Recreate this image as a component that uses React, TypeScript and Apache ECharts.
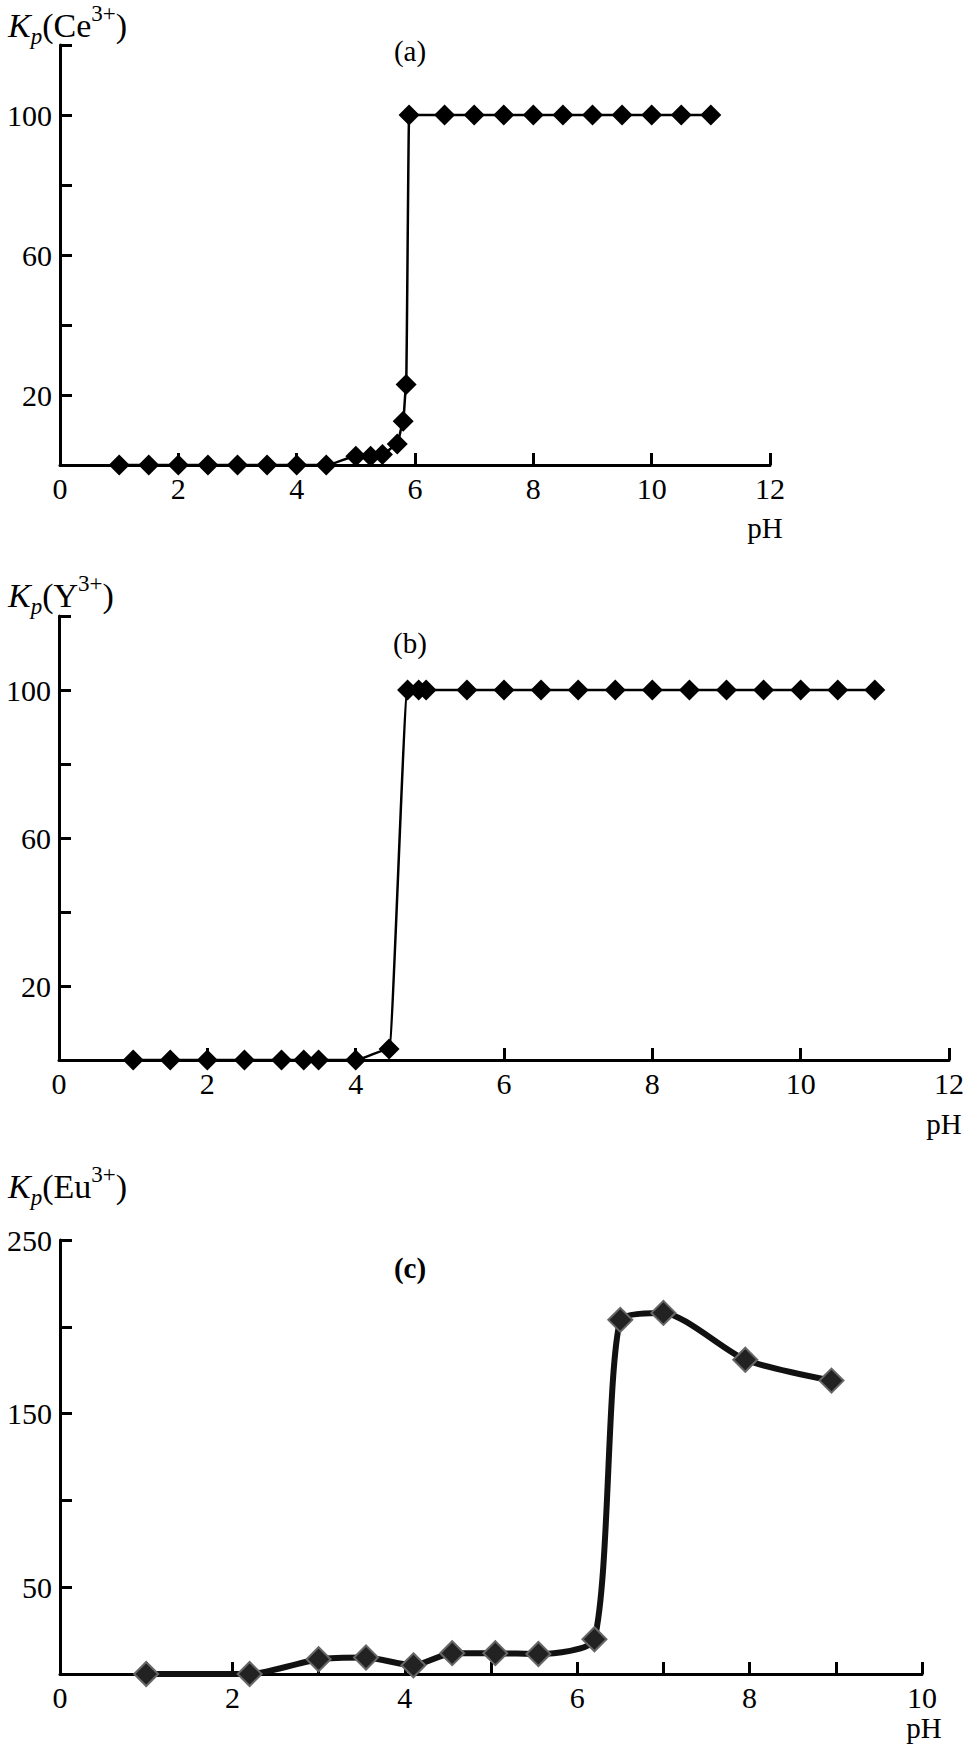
import React, { useEffect, useRef } from "react";
import * as echarts from "echarts";

const phA = [1, 1.5, 2, 2.5, 3, 3.5, 4, 4.5, 5, 5.25, 5.45, 5.7, 5.8, 5.85, 5.9, 6.5, 7, 7.5, 8, 8.5, 9, 9.5, 10, 10.5, 11];
const kpA = [0, 0, 0, 0, 0, 0, 0, 0, 2.5, 2.5, 3, 6, 12.5, 23, 100, 100, 100, 100, 100, 100, 100, 100, 100, 100, 100];

const phB = [1, 1.5, 2, 2.5, 3, 3.3, 3.5, 4, 4.45, 4.7, 4.85, 4.95, 5.5, 6, 6.5, 7, 7.5, 8, 8.5, 9, 9.5, 10, 10.5, 11];
const kpB = [0, 0, 0, 0, 0, 0, 0, 0, 3, 100, 100, 100, 100, 100, 100, 100, 100, 100, 100, 100, 100, 100, 100, 100];

const phC = [1, 2.2, 3, 3.55, 4.1, 4.55, 5.05, 5.55, 6.2, 6.5, 7, 7.95, 8.95];
const kpC = [0, 0, 8.5, 9.5, 5, 12, 12, 11.5, 20, 204, 208, 181, 169];

const yLabelsAB = [20, 60, 100];
const yLabelsC = [50, 150, 250];

const FONT = "'Liberation Serif', 'Times New Roman', Times, serif";

function pairs(xs: number[], ys: number[]) {
  return xs.map((x, i) => [x, ys[i]]);
}

function xAxisCfg(gridIndex: number, max: number, interval: number, labelEvery: number) {
  return {
    type: "value",
    gridIndex,
    min: 0,
    max,
    interval,
    axisLine: { show: true, onZero: false, lineStyle: { color: "#000", width: 3 } },
    axisTick: { show: true, inside: true, length: 12, lineStyle: { color: "#000", width: 3 } },
    axisLabel: {
      color: "#000",
      fontFamily: FONT,
      fontSize: 30,
      margin: 8,
      formatter: (v: number) => (Math.round(v) % labelEvery === 0 ? String(v) : ""),
    },
    splitLine: { show: false },
  };
}

function yAxisCfg(gridIndex: number, max: number, interval: number, labels: number[]) {
  return {
    type: "value",
    gridIndex,
    min: 0,
    max,
    interval,
    axisLine: { show: true, onZero: false, lineStyle: { color: "#000", width: 3 } },
    axisTick: { show: true, inside: true, length: 12, lineStyle: { color: "#000", width: 3 } },
    axisLabel: {
      color: "#000",
      fontFamily: FONT,
      fontSize: 30,
      margin: 8,
      formatter: (v: number) => (labels.includes(v) ? String(v) : ""),
    },
    splitLine: { show: false },
  };
}

function richTitle(ion: string, left: number, top: number) {
  return {
    type: "text",
    left,
    top,
    style: {
      text: `{k|K}{p|p}{n|(${ion}}{s|3+}{n|)}`,
      fill: "#000",
      rich: {
        k: { fontFamily: FONT, fontStyle: "italic", fontSize: 34, lineHeight: 46, fill: "#000" },
        p: { fontFamily: FONT, fontStyle: "italic", fontSize: 23, lineHeight: 23, verticalAlign: "bottom", fill: "#000" },
        n: { fontFamily: FONT, fontSize: 34, lineHeight: 46, fill: "#000" },
        s: { fontFamily: FONT, fontSize: 23, lineHeight: 23, verticalAlign: "top", fill: "#000" },
      },
    },
  };
}

function plainText(text: string, x: number, y: number, bold = false) {
  return {
    type: "text",
    x,
    y,
    style: {
      text,
      fill: "#000",
      fontFamily: FONT,
      fontSize: 29,
      fontWeight: bold ? "bold" : "normal",
      align: "center",
      verticalAlign: "middle",
    },
  };
}

export default function App() {
  const ref = useRef<HTMLDivElement>(null);
  useEffect(() => {
    document.body.style.margin = "0";
    if (!ref.current) return;
    const chart = echarts.init(ref.current, undefined, { renderer: "svg" });
    const thinLine = {
      type: "line",
      symbol: "diamond",
      symbolSize: 21,
      smooth: 0.2,
      smoothMonotone: "x",
      lineStyle: { color: "#000", width: 2.5 },
      itemStyle: { color: "#000" },
    };
    chart.setOption({
      animation: false,
      backgroundColor: "#fff",
      grid: [
        { left: 60, top: 45, width: 710, height: 420 },
        { left: 59, top: 616, width: 890, height: 444 },
        { left: 60, top: 1240, width: 862, height: 434 },
      ],
      xAxis: [xAxisCfg(0, 12, 2, 2), xAxisCfg(1, 12, 2, 2), xAxisCfg(2, 10, 1, 2)],
      yAxis: [yAxisCfg(0, 120, 20, yLabelsAB), yAxisCfg(1, 120, 20, yLabelsAB), yAxisCfg(2, 250, 50, yLabelsC)],
      series: [
        { ...thinLine, xAxisIndex: 0, yAxisIndex: 0, data: pairs(phA, kpA) },
        { ...thinLine, xAxisIndex: 1, yAxisIndex: 1, data: pairs(phB, kpB) },
        {
          type: "line",
          xAxisIndex: 2,
          yAxisIndex: 2,
          data: pairs(phC, kpC),
          symbol: "diamond",
          symbolSize: 24,
          smooth: 0.22,
          lineStyle: { color: "#111", width: 6 },
          itemStyle: { color: "#222", borderColor: "#666", borderWidth: 2 },
        },
      ],
      graphic: [
        richTitle("Ce", 8, 2),
        plainText("(a)", 410, 51),
        plainText("pH", 765, 528),
        richTitle("Y", 8, 572),
        plainText("(b)", 410, 643),
        plainText("pH", 944, 1124),
        richTitle("Eu", 8, 1163),
        plainText("(c)", 410, 1268, true),
        plainText("pH", 924, 1728),
      ],
    });
    return () => chart.dispose();
  }, []);
  return <div ref={ref} style={{ width: 969, height: 1762 }} />;
}
